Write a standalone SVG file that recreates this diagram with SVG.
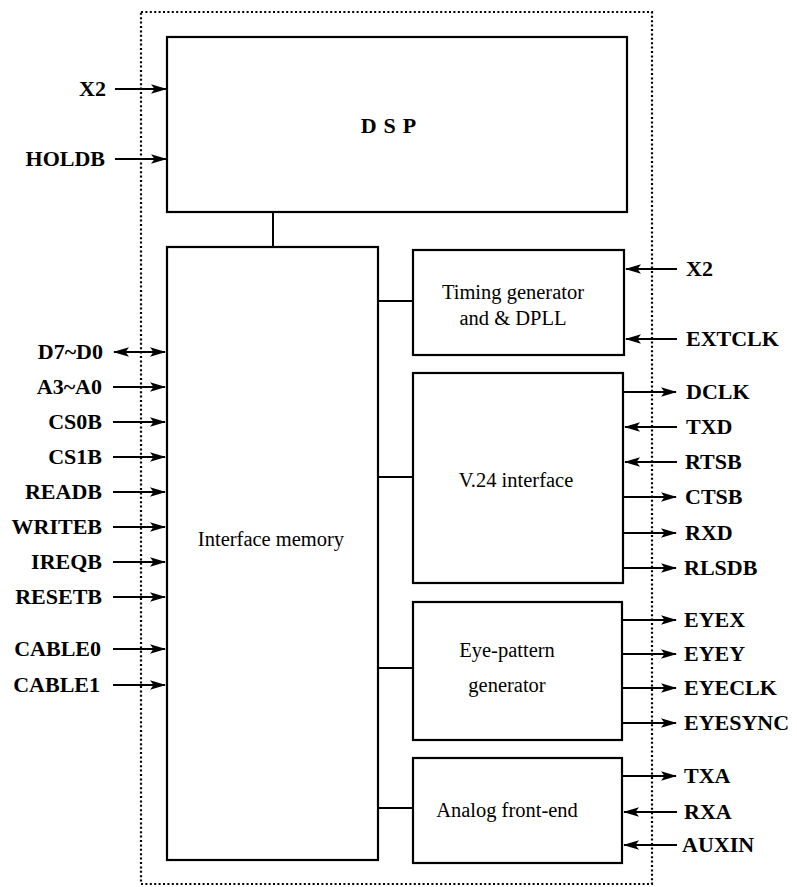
<svg xmlns="http://www.w3.org/2000/svg" width="797" height="887" viewBox="0 0 797 887">
<style>
.box{fill:#fff;stroke:#000;stroke-width:2.2}
.lbl{font-family:"Liberation Serif","Times New Roman",serif;font-weight:bold;font-size:22px;fill:#000}
.in{font-family:"Liberation Serif","Times New Roman",serif;font-size:20.5px;fill:#000;text-anchor:middle}
.w{stroke:#000;stroke-width:2;fill:none}
.a line{stroke:#000;stroke-width:2;marker-end:url(#ah)}
.b{stroke:#000;stroke-width:2;marker-end:url(#ah);marker-start:url(#ah)}
.dot{stroke:#000;stroke-width:2.2;fill:none;stroke-dasharray:2 2.4}
</style>
<defs>
<marker id="ah" markerUnits="userSpaceOnUse" markerWidth="18" markerHeight="12" refX="15" refY="6" orient="auto-start-reverse">
<path d="M0,1.2 L16,6 L0,10.8 L3.5,6 z" fill="#000"/>
</marker>
</defs>
<rect class="dot" x="141" y="12" width="511" height="872"/>
<g id="dsp"><rect class="box" x="167" y="37" width="460" height="175"/><text class="lbl" x="392" y="133" text-anchor="middle" letter-spacing="7">DSP</text></g>
<g id="mem"><rect class="box" x="167" y="247" width="211" height="613"/><text class="in" x="271" y="546">Interface memory</text></g>
<g id="timing"><rect class="box" x="413" y="250" width="211" height="105"/><text class="in" x="513" y="299">Timing generator</text><text class="in" x="513" y="325">and &amp; DPLL</text></g>
<g id="v24"><rect class="box" x="413" y="373" width="210" height="210"/><text class="in" x="516" y="487">V.24 interface</text></g>
<g id="eye"><rect class="box" x="413" y="602" width="209" height="138"/><text class="in" x="507" y="657">Eye-pattern</text><text class="in" x="507" y="692">generator</text></g>
<g id="afe"><rect class="box" x="413" y="758" width="209" height="105"/><text class="in" x="507" y="817">Analog front-end</text></g>
<g id="connectors">
<path class="w" d="M273,212 V247 M378,301 H413 M378,477 H413 M378,668 H413 M378,808 H413"/>
<line class="b" x1="114" y1="352" x2="165" y2="352"/>
<g class="a">
<line x1="115" y1="89" x2="166" y2="89"/>
<line x1="115" y1="159" x2="166" y2="159"/>
<line x1="113" y1="387" x2="165" y2="387"/>
<line x1="113" y1="422" x2="165" y2="422"/>
<line x1="113" y1="457" x2="165" y2="457"/>
<line x1="113" y1="492" x2="165" y2="492"/>
<line x1="113" y1="527" x2="165" y2="527"/>
<line x1="113" y1="562" x2="165" y2="562"/>
<line x1="113" y1="597" x2="165" y2="597"/>
<line x1="113" y1="649" x2="165" y2="649"/>
<line x1="113" y1="685" x2="165" y2="685"/>
<line x1="677" y1="269" x2="626" y2="269"/>
<line x1="677" y1="339" x2="626" y2="339"/>
<line x1="677" y1="427" x2="625" y2="427"/>
<line x1="677" y1="462" x2="625" y2="462"/>
<line x1="677" y1="812" x2="624" y2="812"/>
<line x1="677" y1="845" x2="624" y2="845"/>
<line x1="623" y1="392" x2="676" y2="392"/>
<line x1="623" y1="497" x2="676" y2="497"/>
<line x1="623" y1="533" x2="676" y2="533"/>
<line x1="623" y1="568" x2="676" y2="568"/>
<line x1="622" y1="620" x2="676" y2="620"/>
<line x1="622" y1="654" x2="676" y2="654"/>
<line x1="622" y1="688" x2="676" y2="688"/>
<line x1="622" y1="723" x2="676" y2="723"/>
<line x1="622" y1="776" x2="676" y2="776"/>
</g>
</g>
<g id="labels">
<text class="lbl" x="106" y="96" text-anchor="end">X2</text>
<text class="lbl" x="105" y="166" text-anchor="end">HOLDB</text>
<text class="lbl" x="103" y="359" text-anchor="end">D7~D0</text>
<text class="lbl" x="102" y="394" text-anchor="end">A3~A0</text>
<text class="lbl" x="102" y="429" text-anchor="end">CS0B</text>
<text class="lbl" x="102" y="464" text-anchor="end">CS1B</text>
<text class="lbl" x="102" y="499" text-anchor="end">READB</text>
<text class="lbl" x="102" y="534" text-anchor="end">WRITEB</text>
<text class="lbl" x="102" y="569" text-anchor="end">IREQB</text>
<text class="lbl" x="102" y="604" text-anchor="end">RESETB</text>
<text class="lbl" x="101" y="656" text-anchor="end">CABLE0</text>
<text class="lbl" x="100" y="692" text-anchor="end">CABLE1</text>
<text class="lbl" x="686" y="276">X2</text>
<text class="lbl" x="686" y="346">EXTCLK</text>
<text class="lbl" x="686" y="399">DCLK</text>
<text class="lbl" x="686" y="434">TXD</text>
<text class="lbl" x="685" y="469">RTSB</text>
<text class="lbl" x="685" y="504">CTSB</text>
<text class="lbl" x="685" y="540">RXD</text>
<text class="lbl" x="684" y="575">RLSDB</text>
<text class="lbl" x="684" y="627">EYEX</text>
<text class="lbl" x="684" y="661">EYEY</text>
<text class="lbl" x="684" y="695">EYECLK</text>
<text class="lbl" x="684" y="730">EYESYNC</text>
<text class="lbl" x="684" y="783">TXA</text>
<text class="lbl" x="684" y="819">RXA</text>
<text class="lbl" x="682" y="852">AUXIN</text>
</g>
</svg>
